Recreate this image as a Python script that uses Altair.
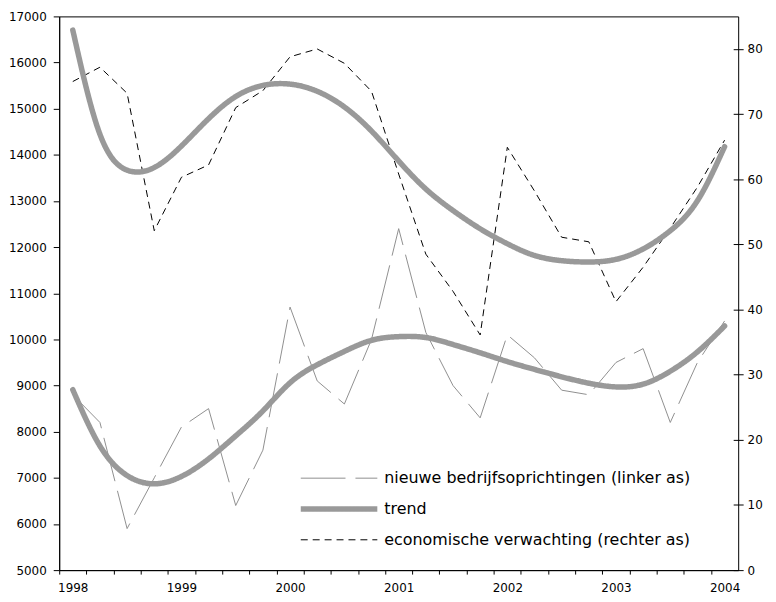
import altair as alt
import pandas as pd

# quarters 1998Q1 .. 2004Q1
kwartalen = list(range(25))
jaarlabels = ["1998", "1999", "2000", "2001", "2002", "2003", "2004"]

nieuwe = [8800, 8200, 5900, 7000, 8100, 8500, 6400, 7600, 10700, 9100, 8600, 10000,
          12400, 10150, 9000, 8300, 10100, 9600, 8900, 8800, 9500, 9800, 8200, 9500, 10400]
trend_links = [8910, 7690, 7050, 6870, 7030, 7410, 7910, 8450, 9060, 9450, 9740, 9980,
               10060, 10040, 9890, 9710, 9520, 9350, 9190, 9050, 8970, 9030, 9310, 9730, 10290]
verwachting = [75.0, 77.2, 73.2, 52.1, 60.3, 62.2, 71.0, 73.6, 78.8, 80.0, 77.8, 73.5,
               60.8, 48.5, 42.8, 36.1, 64.9, 58.2, 51.1, 50.4, 41.2, 46.5, 52.5, 58.8, 66.0]
trend_rechts = [82.9, 66.9, 61.4, 61.8, 65.1, 69.3, 72.7, 74.4, 74.6, 73.5, 71.1, 67.4,
                62.8, 58.5, 55.2, 52.4, 50.1, 48.3, 47.5, 47.3, 47.7, 49.3, 52.1, 56.7, 65.0]

NAAM_N = "nieuwe bedrijfsoprichtingen (linker as)"
NAAM_T = "trend"
NAAM_E = "economische verwachting (rechter as)"
namen = [NAAM_N, NAAM_T, NAAM_E]
kleuren = ["#8f8f8f", "#999999", "#000000"]
strepen = [[45, 10], [1, 0], [7, 5]]
diktes = [1, 5.5, 1]

links_ticks = list(range(5000, 17001, 1000))
rechts_ticks = list(range(0, 81, 10))


def frame(waarden, naam, groep):
    return pd.DataFrame({"k": kwartalen, "waarde": waarden, "reeks": naam, "groep": groep})


df_n = frame(nieuwe, NAAM_N, "n")
df_tl = frame(trend_links, NAAM_T, "tl")
df_e = frame(verwachting, NAAM_E, "e")
df_tr = frame(trend_rechts, NAAM_T, "tr")

W, H = 683, 557
band = W / 25.0

label_arr = "[" + ",".join("'" + j + "'" for j in jaarlabels) + "]"
label_expr = "(datum.value % 4 == 0) ? " + label_arr + "[datum.value / 4] : ''"

x_enc = alt.X(
    "k:Q",
    title=None,
    scale=alt.Scale(domain=[-0.5, 24.5], nice=False, zero=False),
    axis=alt.Axis(
        values=kwartalen,
        labelExpr=label_expr,
        tickOffset=-band / 2,
        labelOffset=band / 2,
        tickSize=4,
        labelPadding=9,
        labelOverlap=False,
        labelFlush=False,
        grid=False,
    ),
)

legend = alt.Legend(
    title=None,
    orient="none",
    legendX=240,
    legendY=450,
    symbolType="stroke",
    symbolSize=5929,
    labelFontSize=16,
    labelFont="DejaVu Sans",
    labelColor="black",
    labelOffset=4,
    labelLimit=0,
    padding=0,
    rowPadding=2,
    clipHeight=29,
)

color_enc = alt.Color("reeks:N", scale=alt.Scale(domain=namen, range=kleuren), legend=legend)
dash_enc = alt.StrokeDash("reeks:N", scale=alt.Scale(domain=namen, range=strepen), legend=legend)
width_enc = alt.StrokeWidth("reeks:N", scale=alt.Scale(type="ordinal", domain=namen, range=diktes),
                            legend=legend)

y_links = alt.Y(
    "waarde:Q",
    title=None,
    scale=alt.Scale(domain=[5000, 17000], nice=False, zero=False),
    axis=alt.Axis(values=links_ticks, format="d", orient="left", tickSize=6,
                  labelPadding=7, grid=False),
)
y_rechts = alt.Y(
    "waarde:Q",
    title=None,
    scale=alt.Scale(domain=[0, 85], nice=False, zero=False),
    axis=alt.Axis(values=rechts_ticks, format="d", orient="right", tickSize=10,
                  offset=-5, domain=False, labelPadding=4, grid=False),
)

enc_common = dict(x=x_enc, color=color_enc, strokeDash=dash_enc, strokeWidth=width_enc)

lijn_n = alt.Chart(df_n).mark_line(strokeCap="butt").encode(y=y_links, **enc_common)
lijn_tl = alt.Chart(df_tl).mark_line(interpolate="natural", strokeCap="round").encode(y=y_links, **enc_common)
lijn_e = alt.Chart(df_e).mark_line(strokeCap="butt").encode(y=y_rechts, **enc_common)
lijn_tr = alt.Chart(df_tr).mark_line(interpolate="natural", strokeCap="round").encode(y=y_rechts, **enc_common)

links = alt.layer(lijn_n, lijn_tl)
rechts = alt.layer(lijn_e, lijn_tr)

chart = (
    alt.layer(links, rechts)
    .resolve_scale(y="independent")
    .properties(
        width=W,
        height=H,
        autosize=alt.AutoSizeParams(type="none"),
        padding={"left": 51.5, "top": 6.7, "right": 30, "bottom": 28},
        background="white",
    )
    .configure_view(stroke="black", strokeWidth=1)
    .configure_axis(
        labelFont="DejaVu Sans",
        labelFontSize=12,
        labelColor="black",
        domainColor="black",
        tickColor="black",
        domainWidth=1,
        tickWidth=1,
    )
)

chart.save("out.html", embed_options={"renderer": "svg", "actions": False})
